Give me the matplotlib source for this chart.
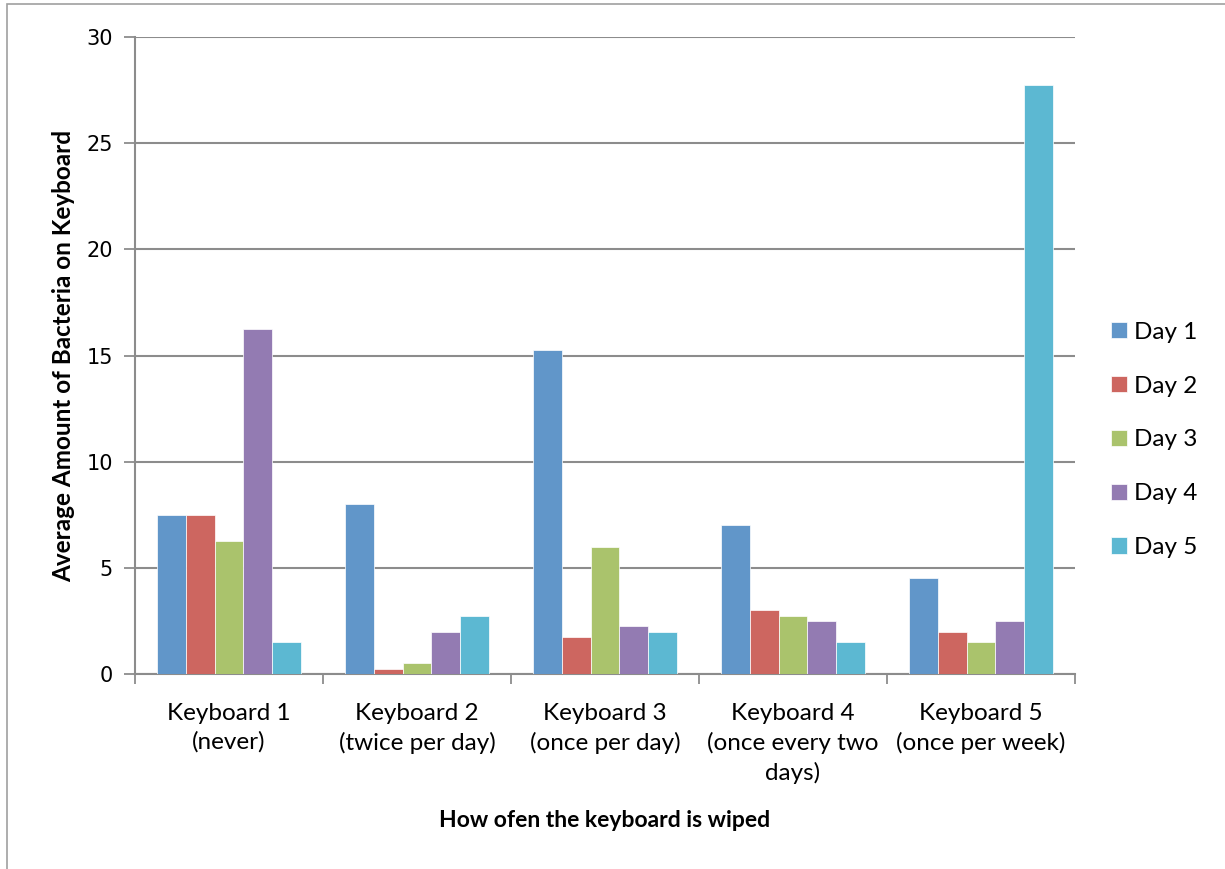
import matplotlib.pyplot as plt
import numpy as np
from matplotlib.patches import Rectangle

# Data
keyboards = ['Keyboard 1\n(never)', 'Keyboard 2\n(twice per day)', 'Keyboard 3\n(once per day)',
             'Keyboard 4\n(once every two\ndays)', 'Keyboard 5\n(once per week)']
days = ['Day 1', 'Day 2', 'Day 3', 'Day 4', 'Day 5']
day1 = [7.5, 8.0, 15.25, 7.0, 4.5]
day2 = [7.5, 0.25, 1.75, 3.0, 2.0]
day3 = [6.25, 0.5, 6.0, 2.75, 1.5]
day4 = [16.25, 2.0, 2.25, 2.5, 2.5]
day5 = [1.5, 2.75, 2.0, 1.5, 27.75]
series = [day1, day2, day3, day4, day5]
colors = ['#6196C9', '#CD6660', '#AAC36C', '#937BB2', '#5CB8D2']

fig = plt.figure(figsize=(12.25, 8.69), dpi=100)
ax = fig.add_axes([135 / 1225, 1 - 674 / 869, 940 / 1225, 637 / 869])

# outer chart border
fig.add_artist(Rectangle((7 / 1225, -0.1), 1.2, 1 - 4 / 869 + 0.1, transform=fig.transFigure,
                         fill=False, edgecolor='#a0a0a0', linewidth=1.2))

x = np.arange(len(keyboards))
width = 1 / 6.5
for i, (vals, lab, c) in enumerate(zip(series, days, colors)):
    ax.bar(x + (i - 2) * width, vals, width, color=c, label=lab,
           edgecolor='white', linewidth=0.5, zorder=3)

ax.set_xlim(-0.5, 4.5)
ax.set_ylim(0, 30)
ax.set_yticks(range(0, 31, 5))
ax.yaxis.grid(True, color='#8c8c8c', linewidth=1.5, zorder=0)
ax.tick_params(axis='y', length=8, width=1.3, color='#8c8c8c', pad=8, labelsize=15)
for t in ax.get_yticklabels():
    t.set_fontfamily('DejaVu Sans')

# category boundaries as ticks, labels at centers
ax.set_xticks(np.arange(-0.5, 5, 1))
ax.set_xticklabels([])
ax.tick_params(axis='x', length=7, width=1.3, color='#8c8c8c')
ax.set_xticks(x, minor=True)
ax.set_xticklabels(keyboards, minor=True, fontfamily='Lato', fontsize=17.5, linespacing=1.42)
ax.tick_params(axis='x', which='minor', length=0, pad=21)

for s in ['top', 'right']:
    ax.spines[s].set_visible(False)
for s in ['left', 'bottom']:
    ax.spines[s].set_color('#8c8c8c')
    ax.spines[s].set_linewidth(1.5)

ax.set_ylabel('Average Amount of Bacteria on Keyboard', fontfamily='Lato',
              fontweight='bold', fontsize=17.5, labelpad=8)
ax.set_xlabel('How ofen the keyboard is wiped', fontfamily='Lato',
              fontweight='bold', fontsize=16.5, labelpad=19)

fig.legend(loc='center left', bbox_to_anchor=(1089 / 1225, 1 - 440 / 869), frameon=False,
           prop={'family': 'Lato', 'size': 17.5}, handlelength=0.65, handleheight=0.65,
           handletextpad=0.3, labelspacing=1.35)

plt.savefig('out.png', dpi=100)
